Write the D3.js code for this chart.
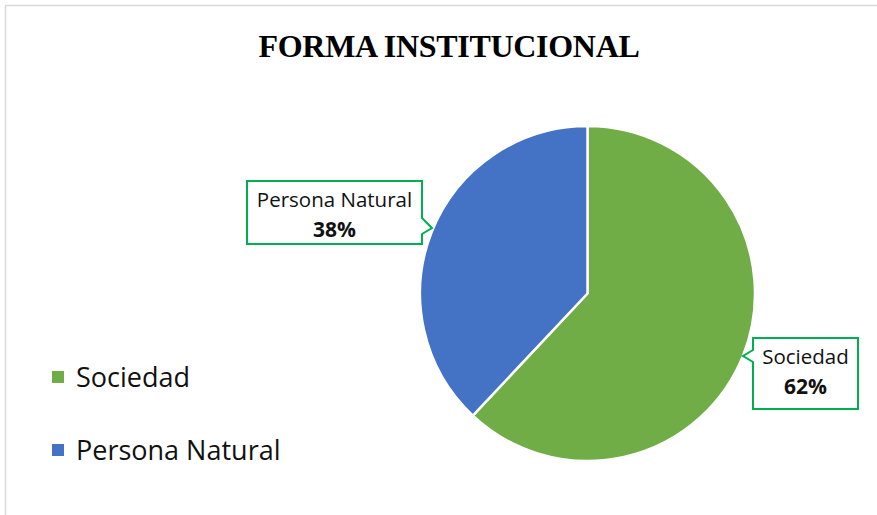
<!DOCTYPE html>
<html>
<head>
<meta charset="utf-8">
<script src="https://cdn.jsdelivr.net/npm/d3@7"></script>
<style>
  body { margin: 0; background: #fff; }
  svg { display: block; }
</style>
</head>
<body>
<div id="chart"></div>
<script>
// datos del gráfico
const categorias = ["Sociedad", "Persona Natural"];
const valores = [62, 38];
const colores = ["#70AD47", "#4472C4"];
const titulo = "FORMA INSTITUCIONAL";

const width = 877, height = 515;
const cx = 587.5, cy = 293.5, radio = 167.5;

const svg = d3.select("#chart").append("svg")
    .attr("width", width)
    .attr("height", height);

// borde del área del gráfico
svg.append("rect")
    .attr("x", 5.5).attr("y", 5.5)
    .attr("width", 900).attr("height", 600)
    .attr("fill", "#fff")
    .attr("stroke", "#d9d9d9")
    .attr("stroke-width", 1.5);

svg.append("text")
    .attr("x", 449).attr("y", 57)
    .attr("text-anchor", "middle")
    .style("font-family", "'Liberation Serif', 'Times New Roman', serif")
    .style("font-weight", "bold")
    .style("font-size", "32px")
    .style("letter-spacing", "-0.3px")
    .text(titulo);

const datos = categorias.map((c, i) => ({ cat: c, valor: valores[i], color: colores[i] }));

const pie = d3.pie().value(d => d.valor).sort(null);
const arc = d3.arc().innerRadius(0).outerRadius(radio);

const g = svg.append("g").attr("transform", `translate(${cx},${cy})`);

g.selectAll("path.slice")
    .data(pie(datos))
    .enter().append("path")
    .attr("class", "slice")
    .attr("d", arc)
    .attr("fill", d => d.data.color)
    .attr("stroke", "#fff")
    .attr("stroke-width", 2.5)
    .attr("stroke-linejoin", "round");

// cajas de etiquetas (posición en pantalla, lado del puntero)
const cajas = [
    { x: 753, y: 338, w: 105, h: 71, lado: "izq", p1: 350, p2: 362, tip: [743, 356] },
    { x: 247, y: 181, w: 175, h: 63, lado: "der", p1: 218, p2: 234, tip: [432, 228] }
];

const total = d3.sum(valores);

datos.forEach((d, i) => {
    const b = cajas[i];
    let path;
    if (b.lado === "izq") {
        path = `M${b.x},${b.y} H${b.x + b.w} V${b.y + b.h} H${b.x} V${b.p2} L${b.tip[0]},${b.tip[1]} L${b.x},${b.p1} Z`;
    } else {
        const r = b.x + b.w;
        path = `M${b.x},${b.y} H${r} V${b.p1} L${b.tip[0]},${b.tip[1]} L${r},${b.p2} V${b.y + b.h} H${b.x} Z`;
    }
    svg.append("path")
        .attr("d", path)
        .attr("fill", "#fff")
        .attr("stroke", "#00B050")
        .attr("stroke-width", 2);

    const mx = b.x + b.w / 2;
    svg.append("text")
        .attr("x", mx).attr("y", b.y + 26)
        .attr("text-anchor", "middle")
        .style("font-family", "'Open Sans', 'Noto Sans', sans-serif")
        .style("font-size", "20.5px")
        .style("fill", "#111")
        .text(d.cat);
    svg.append("text")
        .attr("x", mx).attr("y", b.y + 56)
        .attr("text-anchor", "middle")
        .style("font-family", "'Open Sans', 'Noto Sans', sans-serif")
        .style("font-size", "21px")
        .style("font-weight", "bold")
        .style("fill", "#111")
        .text(Math.round(d.valor / total * 100) + "%");
});

// leyenda
const leyenda = svg.append("g");
datos.forEach((d, i) => {
    const y = 377 + i * 73;
    leyenda.append("rect")
        .attr("x", 52).attr("y", y - 6)
        .attr("width", 12).attr("height", 12)
        .attr("fill", d.color);
    leyenda.append("text")
        .attr("x", 76).attr("y", y + 10)
        .style("font-family", "'Open Sans', 'Noto Sans', sans-serif")
        .style("font-size", "27px")
        .style("fill", "#111")
        .text(d.cat);
});
</script>
</body>
</html>
